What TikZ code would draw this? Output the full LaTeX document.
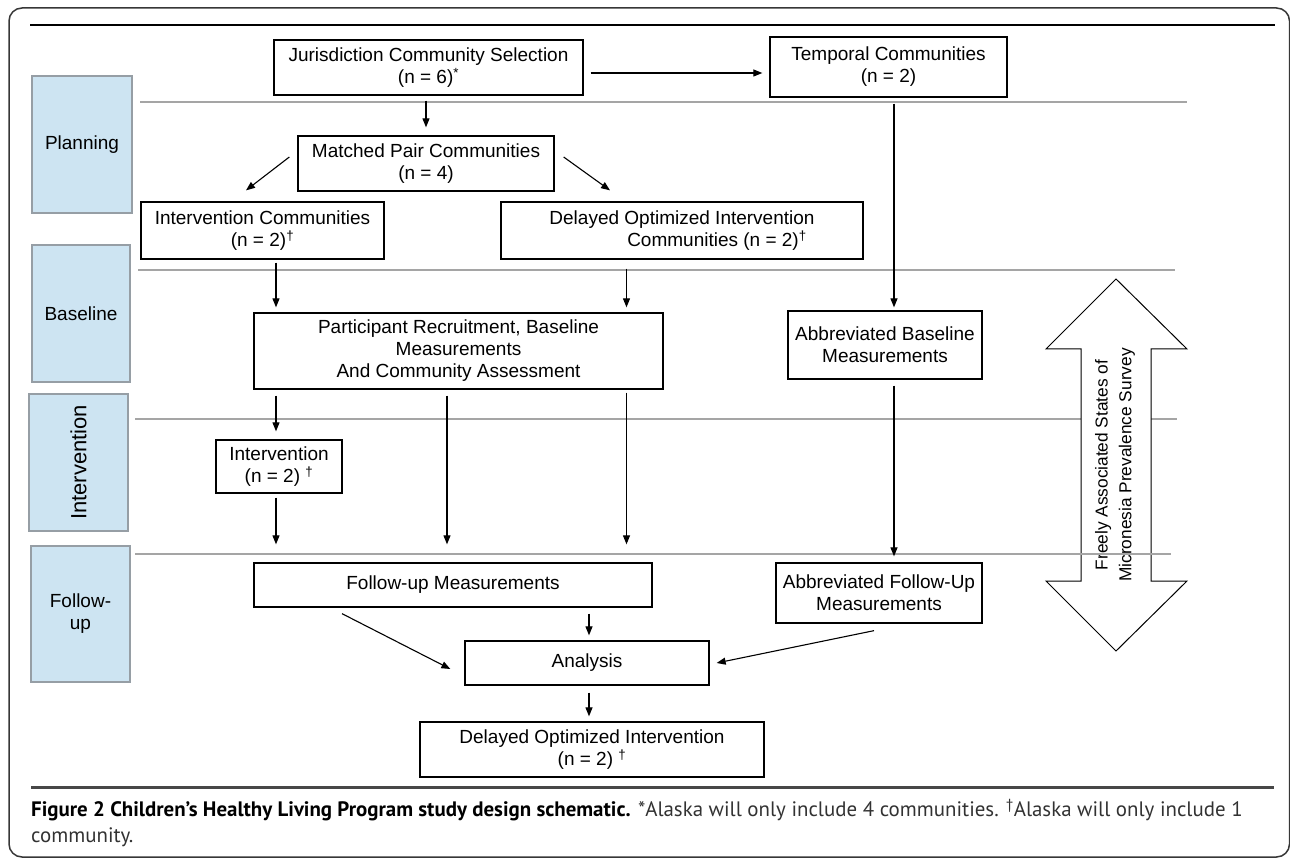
\documentclass[tikz,border=0pt]{standalone}
\usepackage{fontspec}
\setmainfont{Liberation Sans}
\newfontfamily\capfont{PT Sans}
\usetikzlibrary{arrows.meta,calc}
\definecolor{lblue}{RGB}{205,228,242}
\definecolor{lborder}{RGB}{150,158,165}
\definecolor{sepgray}{RGB}{165,165,165}
\definecolor{framegray}{RGB}{55,55,55}
\definecolor{capgray}{RGB}{50,50,50}
\tikzset{
  x=1pt,y=-1pt,
  txt/.style={font=\fontsize{19}{22}\selectfont},
  box/.style={draw=black,line width=1.3pt,fill=white,inner sep=0pt,align=center,txt},
  lbl/.style={draw=lborder,line width=1.3pt,fill=lblue,inner sep=0pt,align=center,txt},
  sep/.style={draw=sepgray,line width=1.5pt},
  arr/.style={draw=black,line width=1.1pt,-{Triangle[length=9pt,width=7pt]}},
  captxt/.style={anchor=west,inner sep=0pt,font=\capfont\fontsize{20.9}{24}\selectfont,text=capgray},
}
\begin{document}
\begin{tikzpicture}
\useasboundingbox (0,0) rectangle (1290,858);
% frame
\draw[framegray,line width=1.5pt,rounded corners=13pt] (9,8) rectangle (1289.5,857);
\draw[black,line width=1.6pt] (30,25) -- (1275,25);
\draw[draw=black!72,line width=3pt] (31,787) -- (1274,787);

% separators (under the big arrow)
\draw[sep] (140,102) -- (1187,102);
\draw[sep] (138,270) -- (1175,270);
\draw[sep] (135,419) -- (1177,419);

% column coordinates
\coordinate (cJ) at (426,0);
\coordinate (cA) at (276,0);
\coordinate (cB) at (447,0);
\coordinate (cC) at (626.5,0);
\coordinate (cT) at (894,0);
\coordinate (cN) at (589,0);
\coordinate (rJT) at (0,73);

% stage labels
\node[lbl,minimum width=100pt,minimum height=137pt] (LP) at (82,144.5) {Planning};
\node[lbl,minimum width=98pt,minimum height=137pt] (LB) at (81,313.5) {Baseline};
\node[lbl,minimum width=99pt,minimum height=137pt] (LI) at (78.5,462.5) {};
\node[rotate=90,font=\fontsize{22}{24}\selectfont] (LIt) at (LI.center) {Intervention};
\node[lbl,minimum width=99pt,minimum height=136pt] (LF) at (80.5,614) {Follow-\\up};

% boxes
\node[box,minimum width=309pt,minimum height=55pt] (J) at (428.5,67.5) {Jurisdiction Community Selection\\(n = 6)\textsuperscript{*}};
\node[box,minimum width=237pt,minimum height=60pt] (T) at (888.5,67) {Temporal Communities\\(n = 2)};
\node[box,minimum width=256pt,minimum height=55pt] (M) at (426,163.5) {Matched Pair Communities\\(n = 4)};
\node[box,minimum width=243pt,minimum height=57pt] (IC) at (262.5,230.5) {Intervention Communities\\(n = 2)\textsuperscript{†}};
\node[box,minimum width=362pt,minimum height=57pt] (DC) at (682,230.5) {Delayed Optimized Intervention\\\hspace*{70pt}Communities (n = 2)\textsuperscript{†}};
\node[box,minimum width=409pt,minimum height=76pt] (P) at (458.5,351) {Participant Recruitment, Baseline\\Measurements\\And Community Assessment};
\node[box,minimum width=194pt,minimum height=68pt] (A) at (885,345) {Abbreviated Baseline\\Measurements};
\node[box,minimum width=126pt,minimum height=53pt] (I) at (279,466.5) {Intervention\\(n = 2) \textsuperscript{†}};
\node[box,minimum width=398pt,minimum height=44pt] (F) at (453,585) {Follow-up Measurements};
\node[box,minimum width=206pt,minimum height=60pt] (AF) at (879,593) {Abbreviated Follow-Up\\Measurements};
\node[box,minimum width=244pt,minimum height=44pt] (An) at (587,663) {Analysis};
\node[box,minimum width=344pt,minimum height=55pt] (D) at (592,749.5) {Delayed Optimized Intervention\\(n = 2) \textsuperscript{†}};

% big double arrow
\draw[black,line width=1pt,fill=white]
  (1116,279) -- (1187,349) -- (1151,349) -- (1151,581) -- (1187,581) -- (1116,651)
  -- (1046,581) -- (1081,581) -- (1081,349) -- (1046,349) -- cycle;
\node[rotate=90,align=center,font=\fontsize{17.3}{23.6}\selectfont] (FAS) at (1115,465)
  {Freely Associated States of\\Micronesia Prevalence Survey};
\draw[sep] (135,554) -- (1171,554);

% connectors
\draw[arr,shorten <=5pt,shorten >=8pt] (J.south -| cJ) -- (M.north -| cJ);
\draw[arr,shorten <=7pt,shorten >=7pt] (J.east |- rJT) -- (T.west |- rJT);
\draw[arr] ($(M.west)+(-8,-6.5)$) -- ($(IC.north)+(-16.5,-11)$);
\draw[arr] ($(M.east)+(9,-6.5)$) -- ($(DC.north)+(-72,-11)$);
\draw[arr,shorten <=3pt,shorten >=5pt] (IC.south -| cA) -- (P.north -| cA);
\draw[arr,shorten <=9pt,shorten >=5pt] (DC.south -| cC) -- (P.north -| cC);
\draw[arr,shorten <=6pt,shorten >=3pt] (T.south -| cT) -- (A.north -| cT);
\draw[arr,shorten <=6pt,shorten >=8pt] (P.south -| cA) -- (I.north -| cA);
\draw[arr,shorten <=6pt,shorten >=18pt] (P.south -| cB) -- (F.north -| cB);
\draw[arr,shorten <=3pt,shorten >=18pt] (P.south -| cC) -- (F.north -| cC);
\draw[arr,shorten <=4pt,shorten >=18pt] (I.south -| cA) -- (F.north -| cA);
\draw[arr,shorten <=6pt,shorten >=6pt] (A.south -| cT) -- (AF.north -| cT);
\draw[arr] ($(F.south)+(-111,6)$) -- ($(An.west)+(-14,6)$);
\draw[arr,shorten <=6pt,shorten >=5pt] (F.south -| cN) -- (An.north -| cN);
\draw[arr] ($(AF.south)+(-5,7)$) -- ($(An.east)+(7,0)$);
\draw[arr,shorten <=7pt,shorten >=5pt] (An.south -| cN) -- (D.north -| cN);

% caption
\node[captxt] (cap1) at (31,810)
  {{\bfseries\color{black}Figure 2 Children’s Healthy Living Program study design schematic.} *Alaska will only include 4 communities. \textsuperscript{†}Alaska will only include 1};
\node[captxt] (cap2) at (31,837) {community.};
\end{tikzpicture}
\end{document}
